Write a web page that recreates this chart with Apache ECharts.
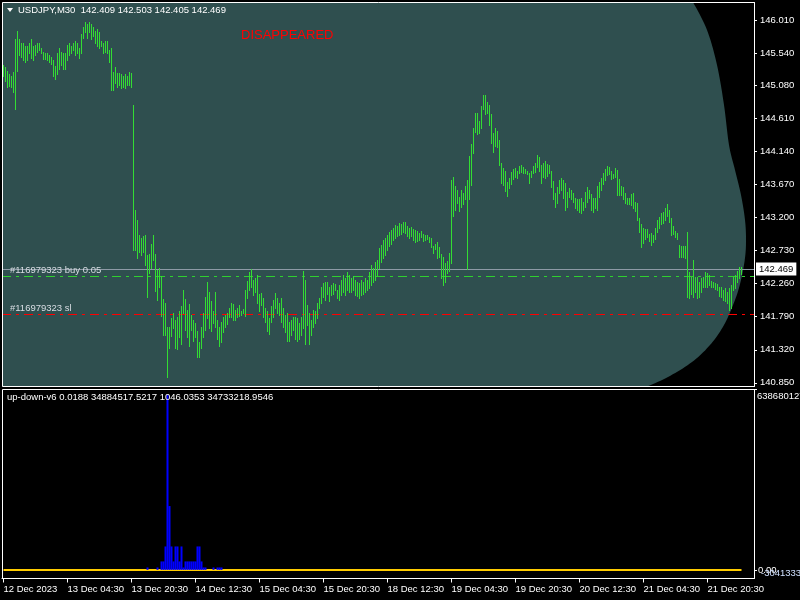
<!DOCTYPE html>
<html><head><meta charset="utf-8">
<script src="https://cdn.jsdelivr.net/npm/echarts@6/dist/echarts.min.js"></script>
<style>html,body{margin:0;padding:0;background:#000}#c{width:800px;height:600px}</style>
</head><body><div id="c"></div>
<script>
// ---- data (USDJPY M30 bar highs / lows, oldest first) ----
const highs = [
145.38,145.34,145.29,145.24,145.22,145.28,145.74,145.86,145.74,145.68,
145.69,145.64,145.65,145.69,145.74,145.65,145.66,145.69,145.69,145.62,
145.56,145.55,145.54,145.52,145.49,145.45,145.36,145.54,145.61,145.56,
145.55,145.55,145.66,145.68,145.64,145.69,145.71,145.69,145.62,145.81,
145.91,145.98,145.95,145.98,145.95,145.91,145.86,145.89,145.84,145.71,
145.69,145.72,145.71,145.59,145.61,145.28,145.34,145.26,145.26,145.24,
145.21,145.25,145.22,145.28,145.26,144.81,143.31,143.17,142.95,142.91,
142.94,142.95,142.67,142.68,142.82,142.95,142.68,142.45,142.48,142.37,
142.04,141.98,141.65,141.65,141.77,141.85,141.74,141.78,141.87,141.94,
142.17,142.04,141.88,141.97,141.81,141.75,141.70,141.58,141.43,141.65,
141.84,142.07,142.28,142.14,142.01,141.87,142.14,141.75,141.64,141.71,
141.78,141.81,141.85,141.92,141.99,141.97,141.88,141.91,141.95,141.87,
141.90,142.17,142.30,142.42,142.47,142.31,142.34,142.38,142.11,142.13,
142.05,141.92,141.87,141.77,141.94,142.03,142.13,142.05,141.99,142.05,
141.91,141.81,141.84,141.71,141.74,141.78,141.78,141.77,141.70,141.78,
142.44,142.32,141.95,141.84,141.75,141.88,141.87,141.99,142.05,142.21,
142.27,142.28,142.28,142.21,142.24,142.27,142.25,142.17,142.24,142.31,
142.38,142.34,142.42,142.38,142.34,142.37,142.31,142.28,142.27,142.31,
142.28,142.34,142.31,142.42,142.52,142.48,142.57,142.60,142.77,142.81,
142.88,142.91,142.95,142.99,143.02,143.05,143.10,143.08,143.12,143.11,
143.14,143.14,143.08,143.05,143.07,143.04,143.02,143.01,142.98,143.01,
142.97,142.95,142.95,142.92,142.91,142.80,142.82,142.85,142.78,142.68,
142.64,142.55,142.58,142.70,143.74,143.78,143.65,143.59,143.49,143.59,
143.55,143.65,143.74,144.08,144.25,144.47,144.69,144.69,144.57,144.79,
144.95,144.94,144.84,144.81,144.67,144.41,144.47,144.44,144.31,143.98,
143.91,143.87,143.71,143.77,143.85,143.89,143.91,143.87,143.94,143.95,
143.92,143.89,143.87,143.84,143.87,143.94,143.98,144.09,144.07,143.95,
143.98,144.01,143.97,143.95,143.87,143.72,143.55,143.64,143.74,143.77,
143.74,143.69,143.57,143.62,143.59,143.55,143.48,143.47,143.47,143.48,
143.42,143.57,143.64,143.59,143.54,143.48,143.48,143.65,143.71,143.77,
143.84,143.89,143.94,143.92,143.87,143.82,143.91,143.88,143.75,143.65,
143.64,143.55,143.48,143.48,143.54,143.55,143.42,143.41,143.20,143.11,
143.05,143.04,143.04,142.97,142.98,142.95,143.05,143.17,143.21,143.27,
143.28,143.34,143.40,143.31,143.20,143.08,143.01,142.98,142.81,142.80,
142.80,142.80,142.99,142.42,142.35,142.60,142.35,142.35,142.28,142.34,
142.35,142.42,142.41,142.38,142.30,142.28,142.27,142.25,142.21,142.21,
142.17,142.20,142.14,142.20,142.24,142.35,142.38,142.44,142.50,142.503
];
const lows = [
145.22,145.15,145.06,145.08,145.06,144.99,144.74,145.29,145.51,145.49,
145.45,145.41,145.45,145.55,145.48,145.45,145.52,145.56,145.59,145.54,
145.46,145.46,145.44,145.41,145.39,145.21,145.18,145.25,145.31,145.38,
145.32,145.31,145.45,145.52,145.55,145.59,145.52,145.55,145.48,145.55,
145.76,145.84,145.76,145.85,145.74,145.79,145.69,145.64,145.62,145.64,
145.55,145.56,145.55,145.41,145.02,145.02,145.12,145.06,145.09,145.04,
145.06,145.05,145.09,145.09,145.06,142.74,142.74,142.62,142.71,142.67,
142.71,142.52,142.07,142.41,142.48,142.60,142.15,142.03,142.22,141.80,
141.53,141.53,140.93,141.34,141.51,141.63,141.35,141.33,141.50,141.40,
141.84,141.60,141.50,141.37,141.60,141.44,141.50,141.21,141.21,141.34,
141.50,141.60,141.77,141.63,141.58,141.70,141.64,141.48,141.37,141.43,
141.57,141.64,141.68,141.78,141.78,141.75,141.74,141.78,141.80,141.81,
141.84,141.80,142.05,142.17,142.21,142.10,142.14,141.98,141.87,141.95,
141.78,141.71,141.58,141.55,141.71,141.78,141.91,141.85,141.81,141.71,
141.64,141.57,141.45,141.45,141.53,141.60,141.47,141.45,141.48,141.53,
141.63,141.40,141.67,141.40,141.53,141.64,141.70,141.77,141.91,141.98,
142.07,142.03,142.12,142.01,142.10,142.12,142.17,142.05,142.03,142.10,
142.14,142.10,142.17,142.14,142.14,142.17,142.10,142.08,142.05,142.10,
142.11,142.14,142.17,142.20,142.24,142.28,142.31,142.38,142.48,142.57,
142.62,142.67,142.74,142.80,142.82,142.88,142.91,142.94,142.95,142.97,
142.99,142.98,142.94,142.91,142.94,142.88,142.85,142.87,142.88,142.92,
142.87,142.88,142.90,142.85,142.78,142.70,142.75,142.62,142.64,142.34,
142.24,142.28,142.41,142.44,142.55,143.22,143.31,143.41,143.30,143.35,
143.39,143.47,142.47,143.47,143.67,144.12,144.42,144.39,144.41,144.48,
144.74,144.67,144.69,144.52,144.27,144.14,144.22,144.21,143.95,143.69,
143.67,143.58,143.51,143.62,143.68,143.75,143.78,143.77,143.84,143.85,
143.84,143.84,143.82,143.69,143.78,143.84,143.85,143.92,143.87,143.69,
143.78,143.77,143.79,143.84,143.64,143.47,143.35,143.41,143.55,143.59,
143.48,143.31,143.35,143.49,143.47,143.42,143.34,143.31,143.28,143.27,
143.31,143.35,143.42,143.48,143.31,143.28,143.34,143.31,143.49,143.59,
143.68,143.74,143.81,143.82,143.75,143.77,143.78,143.52,143.52,143.52,
143.47,143.41,143.39,143.39,143.38,143.34,143.30,143.17,143.00,142.78,
142.84,142.90,142.92,142.87,142.81,142.85,142.90,143.00,143.05,143.11,
143.12,143.17,143.22,143.14,142.95,142.97,142.92,142.90,142.64,142.64,
142.64,142.62,142.07,142.05,142.12,142.07,142.14,142.05,142.07,142.14,
142.21,142.21,142.21,142.24,142.21,142.21,142.18,142.17,142.08,142.07,
142.03,142.01,141.98,141.88,141.91,142.17,142.20,142.28,142.34,142.405
];
const priceTicks = [140.85,141.32,141.79,142.26,142.73,143.20,143.67,144.14,144.61,145.08,145.54,146.01];
const timeTickIdx = [0,32,64,96,128,160,192,224,256,288,320,352];
const timeLabels = ['12 Dec 2023','13 Dec 04:30','13 Dec 20:30','14 Dec 12:30','15 Dec 04:30','15 Dec 20:30','18 Dec 12:30','19 Dec 04:30','19 Dec 20:30','20 Dec 12:30','21 Dec 04:30','21 Dec 20:30'];
const lastPrice = 142.469, buyPrice = 142.371, slPrice = 141.83;
const ohlcText = 'USDJPY,M30  142.409 142.503 142.405 142.469';
const indText = 'up-down-v6 0.0188 34884517.5217 1046.0353 34733218.9546';
// indicator histogram (bar index -> value)
const histIdx  = [72,77,79,80,81,82,83,84,85,86,87,88,89,90,91,92,93,94,95,96,97,98,99,100,101,105,107,108,109];
const histVals = [8.7e6,8.7e6,30e6,30e6,83e6,620e6,226e6,83e6,30e6,83e6,83e6,30e6,83e6,8.7e6,30e6,30e6,30e6,30e6,30e6,30e6,83e6,83e6,30e6,8.7e6,8.7e6,8.7e6,8.7e6,8.7e6,8.7e6];
const indMax = 638680127, indMin = -30413339;

// ---- chart ----
const FONT = 'Liberation Sans';
const FS = 9.5;
const chart = echarts.init(document.getElementById('c'), null, {renderer:'canvas'});
const N = highs.length;
const barData = highs.map((h,i)=>[i, lows[i], h]);
const histData = histIdx.map((ix,k)=>[ix, histVals[k]]);
const XMIN = -0.75, XMAX = 375.25;

// background ellipse object (its right edge inside the price window)
const edge=[[693,2],[707,30],[717,65],[724,105],[729,145],[735,170],[741,195],[745,220],[746,240],[745,258],[741,280],[735,300],[724,325],[710,345],[692,362],[668,377],[646,387]];
function spline(p){const out=[];for(let k=0;k<p.length-1;k++){const p0=p[Math.max(k-1,0)],p1=p[k],p2=p[k+1],p3=p[Math.min(k+2,p.length-1)];for(let s=0;s<10;s++){const t=s/10,t2=t*t,t3=t2*t;out.push([0,1].map(d=>0.5*((2*p1[d])+(-p0[d]+p2[d])*t+(2*p0[d]-5*p1[d]+4*p2[d]-p3[d])*t2+(-p0[d]+3*p1[d]-3*p2[d]+p3[d])*t3)));}}out.push(p[p.length-1]);return out;}
const ellPoly = [[2,2]].concat(spline(edge)).concat([[2,387]]);

const option = {
  backgroundColor:'#000',
  animation:false,
  textStyle:{fontFamily:FONT},
  grid:[
    {left:2, width:752, top:2.5, height:384},
    {left:2, width:752, top:389.5, height:189}
  ],
  xAxis:[
    {type:'value', gridIndex:0, min:XMIN, max:XMAX, show:false, axisLine:{onZero:false}},
    {type:'value', gridIndex:1, min:XMIN, max:XMAX,
      axisLine:{show:true, onZero:false, lineStyle:{color:'#fff', width:1}},
      axisTick:{show:true, length:4, customValues:timeTickIdx, lineStyle:{color:'#fff'}},
      axisLabel:{show:true, customValues:timeTickIdx, color:'#fff', fontSize:FS, fontFamily:FONT, align:'left', margin:6,
        formatter:(v)=>{const k=timeTickIdx.indexOf(Math.round(v));return k>=0?timeLabels[k]:'';}},
      splitLine:{show:false}}
  ],
  yAxis:[
    {type:'value', gridIndex:0, position:'right', min:140.797, max:146.263, scale:true,
      axisLine:{show:true, onZero:false, lineStyle:{color:'#fff'}},
      axisTick:{show:true, length:3, customValues:priceTicks, lineStyle:{color:'#fff'}},
      axisLabel:{show:true, customValues:priceTicks, color:'#fff', fontSize:FS, fontFamily:FONT, margin:6, formatter:(v)=>v.toFixed(3)},
      splitLine:{show:false}},
    {type:'value', gridIndex:1, position:'right', min:indMin, max:indMax,
      axisLine:{show:true, onZero:false, lineStyle:{color:'#fff'}},
      axisTick:{show:true, length:3, customValues:[0, indMax], lineStyle:{color:'#fff'}},
      axisLabel:{show:true, customValues:[0], color:'#fff', fontSize:FS, fontFamily:FONT, margin:4, formatter:()=> '0.00'},
      splitLine:{show:false}}
  ],
  graphic:[
    {type:'polygon', shape:{points:ellPoly}, style:{fill:'#2f4f4f'}, z:0, silent:true},
    {type:'rect', shape:{x:2.5,y:2.5,width:752,height:384}, style:{fill:null, stroke:'#fff', lineWidth:1}, z:100, silent:true},
    {type:'rect', shape:{x:2.5,y:389.5,width:752,height:189}, style:{fill:null, stroke:'#fff', lineWidth:1}, z:100, silent:true},
    {type:'polygon', shape:{points:[[7,8],[13,8],[10,12]]}, style:{fill:'#fff'}, z:100},
    {type:'text', x:18, y:10, style:{text:ohlcText, fill:'#fff', font:`${FS}px "${FONT}"`, textVerticalAlign:'middle'}, z:100},
    {type:'text', x:241, y:35, style:{text:'DISAPPEARED', fill:'#ff0000', font:`13px "${FONT}"`, textVerticalAlign:'middle'}, z:100},
    {type:'text', x:7, y:397, style:{text:indText, fill:'#fff', font:`${FS}px "${FONT}"`, textVerticalAlign:'middle'}, z:100},
    {type:'text', x:757, y:396, style:{text:String(indMax), fill:'#fff', font:`${FS}px "${FONT}"`, textVerticalAlign:'middle'}, z:100},
    {type:'text', x:761, y:573, style:{text:String(indMin), fill:'#cfe0ff', font:`${FS}px "${FONT}"`, textVerticalAlign:'middle'}, z:100}
  ],
  series:[
    {type:'custom', xAxisIndex:0, yAxisIndex:0, data:barData, clip:true, z:5,
      encode:{x:0, y:[1,2]},
      renderItem:(params, api)=>{
        const i=api.value(0);
        const lo=api.coord([i, api.value(1)]), hi=api.coord([i, api.value(2)]);
        const x=Math.round(lo[0]-0.5)+0.5;
        return {type:'line', shape:{x1:x, y1:Math.round(hi[1]), x2:x, y2:Math.round(lo[1])+1}, style:{stroke:'#33dd33', lineWidth:1}};
      },
      markLine:{silent:true, symbol:['none','none'], animation:false,
        data:[
          {yAxis:lastPrice, lineStyle:{color:'#8e9aa6', type:'solid', width:1},
            label:{show:true, position:'end', distance:2, formatter:lastPrice.toFixed(3), color:'#000', backgroundColor:'#fff', padding:[2,3,1,3], fontSize:FS, fontFamily:FONT}},
          {yAxis:buyPrice, lineStyle:{color:'#2fd02f', type:[9,5,3,5], width:1},
            label:{show:true, position:'insideStartTop', distance:[8,1], formatter:'#116979323 buy 0.05', color:'#d8dde3', fontSize:FS, fontFamily:FONT}},
          {yAxis:slPrice, lineStyle:{color:'#ff0000', type:[9,5,3,5], width:1},
            label:{show:true, position:'insideStartTop', distance:[8,1], formatter:'#116979323 sl', color:'#d8dde3', fontSize:FS, fontFamily:FONT}}
        ]}
    },
    {type:'bar', xAxisIndex:1, yAxisIndex:1, data:histData, barWidth:2, z:5,
      itemStyle:{color:'#0000ff'},
      markLine:{silent:true, symbol:['none','none'], animation:false, label:{show:false},
        data:[[{coord:[0,0]},{coord:[N-1,0]}]], lineStyle:{color:'#ffcc00', width:2, type:'solid'}}
    }
  ]
};
chart.setOption(option);
</script></body></html>
